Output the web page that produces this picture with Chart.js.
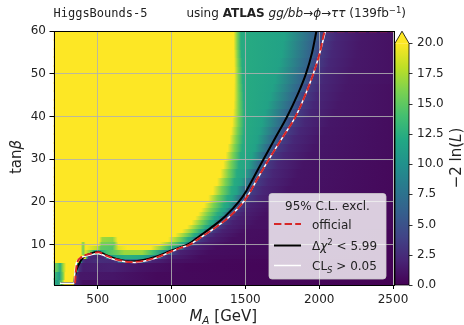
<!DOCTYPE html>
<html>
<head>
<meta charset="utf-8">
<script src="https://cdn.jsdelivr.net/npm/chart.js@4.4.1/dist/chart.umd.min.js"></script>
<style>
  html, body { margin: 0; padding: 0; background: #fff; }
</style>
</head>
<body>
<canvas id="c" width="464" height="325"></canvas>
<script>
// axis ranges and ticks
const xRange = [200, 2500];
const yRange = [0.5, 60];
const xTicks = [500, 1000, 1500, 2000, 2500];
const yTicks = [10, 20, 30, 40, 50, 60];
const cbTicks = [0, 2.5, 5, 7.5, 10, 12.5, 15, 17.5, 20];
const cbTop = 20;   // colour scale saturates here (arrow above)
const cbArrow = 21; // tip of the extension arrow

// tanβ band edges of the likelihood map (bottom to top)
const tanbEdges = [0.5, 2, 4, 6, 7, 8, 9, 10, 11, 12, 13, 14, 15, 16, 17, 18, 19, 20,
  22, 24, 26, 28, 30, 32, 34, 36, 38, 40, 42, 44, 46, 48, 50, 52, 54, 56, 58, 60];

// -2ln(L) read along each band: [M_A, value] knots
const heatRows = [
  [[200,13],[230,11],[255,15],[275,20],[335,20],[340,6],[345,2],[400,0.8],[2500,0.03]],
  [[200,15],[215,13],[240,11],[265,16],[280,20],[340,20],[345,10],[348,6],[352,3],[380,1.3],[600,1.2],[900,0.5],[2500,0.05]],
  [[200,16],[225,15],[245,12.5],[265,17],[285,20],[355,20],[362,12],[367,6],[372,3],[400,1.6],[600,1.8],[800,1],[1100,0.4],[2500,0.05]],
  [[200,20],[375,20],[388,12],[393,6],[398,3],[420,2],[500,2.6],[600,2.4],[640,3.5],[640,6],[680,7.5],[720,8],[780,7.5],[822,6],[822,3.5],[870,2],[1000,1],[1300,0.4],[2500,0.08]],
  [[200,20],[415,20],[425,12],[431,6],[436,3],[450,2.2],[540,2.2],[557,3.5],[557,6],[575,10],[620,12],[700,12.5],[800,12],[880,9.5],[921,6],[935,3.5],[980,1.8],[1200,0.6],[2500,0.1]],
  [[200,20],[385,20],[400,15.5],[418,19],[450,16],[480,12],[500,10.5],[520,12],[560,14],[630,15.5],[680,17],[800,17],[870,14],[940,10],[993,6],[1011,3.5],[1060,1.8],[1250,0.7],[2500,0.12]],
  [[200,20],[385,20],[400,15.5],[418,20],[500,18],[520,15],[600,14.5],[640,19],[700,20],[860,20],[940,16],[1000,12.3],[1025,11.5],[1072,6],[1085,3.2],[1145,1.8],[1305,0.7],[2500,0.15]],
  [[200,20],[385,20],[400,16],[418,20],[505,20],[525,16],[610,15.5],[640,20],[920,20],[1000,16],[1065,12.3],[1090,11.5],[1132,6],[1150,3.2],[1210,1.8],[1370,0.8],[2500,0.2]],
  [[200,20],[510,20],[530,17],[600,16.5],[635,20],[975,20],[1055,16],[1112,12.3],[1135,11.5],[1172,6],[1195,3.2],[1255,1.8],[1415,0.8],[2500,0.2]],
  [[200,20],[1025,20],[1100,16],[1155,12.3],[1175,11.5],[1209,6],[1240,3.2],[1300,1.8],[1460,0.8],[2500,0.2]],
  [[200,20],[1070,20],[1140,16],[1196,12.3],[1214,11.5],[1250,6],[1282,3.2],[1342,1.8],[1502,0.8],[2500,0.2]],
  [[200,20],[1105,20],[1172,16],[1232,12.3],[1252,11.5],[1288,6],[1320,3.2],[1380,1.8],[1540,0.9],[2500,0.3]],
  [[200,20],[1135,20],[1200,16],[1262,12.3],[1285,11.5],[1324,6],[1355,3.2],[1415,1.8],[1575,0.9],[2500,0.3]],
  [[200,20],[1160,20],[1225,16],[1290,12.3],[1315,11.5],[1358,6],[1390,3.2],[1450,1.8],[1610,0.9],[2500,0.3]],
  [[200,20],[1180,20],[1245,16],[1312,12.3],[1340,11.5],[1388,6],[1420,3.2],[1480,1.8],[1640,0.9],[2500,0.3]],
  [[200,20],[1200,20],[1265,16],[1335,12.3],[1362,11.5],[1414,6],[1448,3.2],[1508,1.8],[1668,0.9],[2500,0.3]],
  [[200,20],[1220,20],[1285,16],[1355,12.3],[1385,11.5],[1440,6],[1475,3.2],[1535,1.8],[1695,0.9],[2500,0.3]],
  [[200,20],[1248,20],[1310,16],[1378,12.3],[1410,11.5],[1478,6],[1505,3.5],[1585,2.1],[1755,1.1],[2500,0.45]],
  [[200,20],[1280,20],[1340,16],[1405,12.3],[1440,11.5],[1511,6],[1540,3.5],[1620,2.1],[1790,1.1],[2500,0.45]],
  [[200,20],[1308,20],[1365,16],[1425,12.3],[1470,11.5],[1545,6],[1575,3.5],[1655,2.1],[1825,1.1],[2500,0.45]],
  [[200,20],[1330,20],[1385,16],[1442,12.3],[1495,11.5],[1576,6],[1607,3.5],[1687,2.1],[1857,1.1],[2500,0.45]],
  [[200,20],[1350,20],[1402,16],[1456,12.3],[1520,11.5],[1607,6],[1640,3.5],[1720,2.1],[1890,1.1],[2500,0.45]],
  [[200,20],[1366,20],[1416,16],[1468,12.3],[1545,11.5],[1640,6],[1680,3.5],[1760,2.2],[1930,1.2],[2500,0.6]],
  [[200,20],[1380,20],[1428,16],[1478,12.3],[1565,11.5],[1672,6],[1714,3.5],[1794,2.2],[1964,1.2],[2500,0.6]],
  [[200,20],[1393,20],[1438,16],[1485,12.3],[1580,11.5],[1704,6],[1750,3.5],[1830,2.2],[2000,1.2],[2500,0.6]],
  [[200,20],[1403,20],[1446,16],[1490,12.3],[1595,11.5],[1736,6],[1786,3.5],[1866,2.2],[2036,1.2],[2500,0.6]],
  [[200,20],[1411,20],[1452,16],[1492,12.3],[1612,11.5],[1768,6],[1822,3.5],[1902,2.2],[2072,1.2],[2500,0.6]],
  [[200,20],[1417,20],[1455,16],[1492,12.3],[1632,11.5],[1797,6],[1855,3.5],[1935,2.2],[2105,1.3],[2500,0.8]],
  [[200,20],[1420,20],[1455,16],[1490,12.3],[1650,11.5],[1825,6],[1880,3.5],[1960,2.2],[2130,1.3],[2500,0.8]],
  [[200,20],[1422,20],[1455,16],[1488,12.3],[1668,11.5],[1852,6],[1905,3.5],[1985,2.2],[2155,1.3],[2500,0.8]],
  [[200,20],[1423,20],[1454,16],[1485,12.3],[1685,11.5],[1876,6],[1928,3.5],[2008,2.2],[2178,1.3],[2500,0.8]],
  [[200,20],[1424,20],[1453,16],[1482,12.3],[1700,11.5],[1898,6],[1950,3.5],[2030,2.2],[2200,1.3],[2500,0.9]],
  [[200,20],[1424,20],[1452,16],[1480,12.3],[1715,11.5],[1920,6],[1970,3.5],[2050,2.2],[2220,1.3],[2500,0.9]],
  [[200,20],[1423,20],[1450,16],[1477,12.3],[1730,11.5],[1937,6],[1988,3.5],[2068,2.2],[2238,1.3],[2500,0.9]],
  [[200,20],[1422,20],[1448,16],[1474,12.3],[1745,11.5],[1952,6],[2005,3.5],[2085,2.2],[2255,1.3],[2500,0.9]],
  [[200,20],[1420,20],[1445,16],[1470,12.3],[1755,11.5],[1964,6],[2020,3.5],[2100,2.2],[2270,1.3],[2500,0.9]],
  [[200,20],[1420,20],[1445,16],[1470,12.3],[1765,11.5],[1975,6],[2035,3.5],[2115,2.2],[2285,1.3],[2500,0.9]]
];

// exclusion contours (M_A, tanβ)
const chi2M = [250, 339, 346, 368, 402, 448, 500, 550, 600, 650, 720, 800, 900, 1000, 1110, 1172, 1262, 1360, 1460, 1505, 1545, 1623, 1703, 1783, 1852, 1910, 1952, 1981];
const chi2T = [0.9, 0.9, 2.8, 5.1, 7.0, 7.8, 8.3, 7.6, 6.9, 6.4, 6.0, 6.3, 7.2, 8.6, 10.0, 11.5, 13.8, 16.5, 20.2, 22.5, 25, 30, 35, 40, 45, 50, 55, 60];
const officialM = [346, 350, 358, 385, 448, 504, 550, 600, 650, 720, 800, 900, 1000, 1060, 1120, 1190, 1290, 1392, 1492, 1535, 1575, 1660, 1750, 1840, 1905, 1960, 2005, 2042, 2500];
const officialT = [0.9, 3.0, 5.3, 6.9, 7.8, 8.15, 7.5, 6.8, 6.3, 5.9, 6.1, 7.0, 8.4, 9.2, 9.9, 11.5, 13.8, 16.5, 20.2, 22.5, 25, 30, 35, 40, 45, 50, 55, 60, 60];
const clsM = [244, 340, 344, 352, 378, 448, 500, 550, 600, 680, 750, 800, 900, 1000, 1060, 1120, 1190, 1290, 1392, 1492, 1535, 1575, 1660, 1750, 1840, 1905, 1960, 2005, 2042];
const clsT = [0.9, 0.9, 3.0, 5.3, 6.7, 7.5, 7.9, 7.3, 6.6, 6.0, 5.8, 6.0, 6.9, 8.35, 9.2, 9.9, 11.5, 13.8, 16.5, 20.2, 22.5, 25, 30, 35, 40, 45, 50, 55, 60];

const VIRIDIS = [[68,1,84],[72,36,117],[65,68,135],[53,95,141],[42,120,142],[33,145,140],
  [34,168,132],[68,191,112],[122,209,81],[189,223,38],[253,231,37]];

function viridis(f) {
  f = Math.max(0, Math.min(1, f)) * 10;
  const i = Math.min(9, Math.floor(f)), t = f - i;
  const a = VIRIDIS[i], b = VIRIDIS[i + 1];
  const c = a.map((v, k) => Math.round(v + (b[k] - v) * t));
  return `rgb(${c[0]},${c[1]},${c[2]})`;
}

const pts = (xs, ys) => xs.map((x, i) => ({ x, y: ys[i] }));

// draw a run of text pieces with different fonts: [text, font, dy]
function drawParts(ctx, parts, x, y, align) {
  let w = 0;
  parts.forEach(p => { ctx.font = p[1]; w += ctx.measureText(p[0]).width; });
  let cx = align === 'right' ? x - w : align === 'center' ? x - w / 2 : x;
  parts.forEach(p => {
    ctx.font = p[1];
    ctx.fillText(p[0], cx, y + (p[2] || 0));
    cx += ctx.measureText(p[0]).width;
  });
}

const F = 'DejaVu Sans';
const f12 = `12px "${F}"`, i12 = `italic 12px "${F}"`, b12 = `bold 12px "${F}"`;
const f15 = `15px "${F}"`, i15 = `italic 15px "${F}"`;

const heatmap = {
  id: 'heatmap',
  beforeDraw(chart) {
    const { ctx, chartArea: ca, scales: { x, y } } = chart;
    const x0 = x.getPixelForValue(xRange[0]), x1 = x.getPixelForValue(xRange[1]);
    ctx.save();
    ctx.beginPath();
    ctx.rect(ca.left, ca.top, ca.right - ca.left, ca.bottom - ca.top);
    ctx.clip();
    heatRows.forEach((knots, i) => {
      const yt = y.getPixelForValue(tanbEdges[i + 1]);
      const yb = y.getPixelForValue(tanbEdges[i]);
      const g = ctx.createLinearGradient(x0, 0, x1, 0);
      knots.forEach(([m, v]) => {
        g.addColorStop((x.getPixelForValue(m) - x0) / (x1 - x0), viridis(v / cbTop));
      });
      ctx.fillStyle = g;
      ctx.fillRect(x0, Math.floor(yt), x1 - x0, Math.ceil(yb) - Math.floor(yt) + 1);
    });
    ctx.restore();
  }
};

const decor = {
  id: 'decor',
  afterDraw(chart) {
    const { ctx, chartArea: ca } = chart;
    const cb = chart.scales.yc;
    ctx.save();
    // frame
    ctx.strokeStyle = '#000';
    ctx.lineWidth = 1;
    ctx.strokeRect(Math.round(ca.left) + 0.5, Math.round(ca.top) + 0.5,
      Math.round(ca.right - ca.left), Math.round(ca.bottom - ca.top));

    // colour bar
    const bx0 = ca.right + 2, bx1 = ca.right + 16;
    const byTop = cb.getPixelForValue(cbTop), byBot = cb.getPixelForValue(0), byTip = cb.getPixelForValue(cbArrow);
    const g = ctx.createLinearGradient(0, byBot, 0, byTop);
    for (let k = 0; k <= 10; k++) g.addColorStop(k / 10, viridis(k / 10));
    ctx.fillStyle = g;
    ctx.fillRect(bx0, byTop, bx1 - bx0, byBot - byTop);
    ctx.fillStyle = viridis(1);
    ctx.beginPath();
    ctx.moveTo(bx0, byTop); ctx.lineTo((bx0 + bx1) / 2, byTip); ctx.lineTo(bx1, byTop);
    ctx.closePath(); ctx.fill();
    ctx.beginPath();
    ctx.moveTo(bx0, byBot); ctx.lineTo(bx0, byTop); ctx.lineTo((bx0 + bx1) / 2, byTip);
    ctx.lineTo(bx1, byTop); ctx.lineTo(bx1, byBot); ctx.closePath();
    ctx.strokeStyle = '#000'; ctx.lineWidth = 0.8; ctx.stroke();
    cb.ticks.forEach(t => {
      const py = Math.round(cb.getPixelForValue(t.value)) + 0.5;
      ctx.beginPath(); ctx.moveTo(bx1, py); ctx.lineTo(bx1 + 3.5, py); ctx.stroke();
    });

    ctx.fillStyle = '#222';
    ctx.textBaseline = 'alphabetic';
    ctx.textAlign = 'left';
    // colour bar label
    ctx.save();
    ctx.translate(461, 158);
    ctx.rotate(-Math.PI / 2);
    drawParts(ctx, [['\u22122 ln(', f15], ['L', i15], [')', f15]], 0, 0, 'center');
    ctx.restore();

    // y label
    ctx.save();
    ctx.translate(20.5, 157);
    ctx.rotate(-Math.PI / 2);
    drawParts(ctx, [['tan', f15], ['\u03b2', i15]], 0, 0, 'center');
    ctx.restore();

    // x label
    drawParts(ctx, [['M', i15], ['A', `italic 10.5px "${F}"`, 3], [' [GeV]', f15]],
      (ca.left + ca.right) / 2, 321, 'center');

    // titles
    drawParts(ctx, [['HiggsBounds-5', `12px "DejaVu Sans Mono"`]], ca.left, 17, 'left');
    drawParts(ctx, [['using ', f12], ['ATLAS', b12], [' ', f12], ['gg/bb', i12], ['\u2192', f12],
      ['\u03d5', i12], ['\u2192', f12], ['\u03c4\u03c4', i12], [' (139fb', f12],
      ['\u22121', `8.5px "${F}"`, -4.5], [')', f12]], 406, 17, 'right');

    // legend
    const lx = 269, ly = 193.5, lw = 117, lh = 85.5;
    ctx.beginPath();
    ctx.roundRect(lx, ly, lw, lh, 3);
    ctx.fillStyle = 'rgba(255,255,255,0.8)';
    ctx.fill();
    ctx.strokeStyle = 'rgba(204,204,204,0.8)';
    ctx.lineWidth = 1;
    ctx.stroke();
    ctx.fillStyle = '#222';
    drawParts(ctx, [['95% C.L. excl.', f12]], lx + lw / 2, 209.5, 'center');
    const rows = [
      { y: 224, color: '#d62728', w: 2, dash: [7.4, 3.2],
        label: [['official', f12]] },
      { y: 245.5, color: '#000', w: 2, dash: [],
        label: [['\u0394', f12], ['\u03c7', i12], ['2', `8.5px "${F}"`, -5], [' < 5.99', f12]] },
      { y: 265.5, color: '#fff', w: 1.5, dash: [],
        label: [['CL', f12], ['S', `italic 8.5px "${F}"`, 2.5], [' > 0.05', f12]] }
    ];
    rows.forEach(r => {
      ctx.beginPath();
      ctx.setLineDash(r.dash);
      ctx.strokeStyle = r.color;
      ctx.lineWidth = r.w;
      ctx.moveTo(274, r.y); ctx.lineTo(301, r.y);
      ctx.stroke();
      ctx.setLineDash([]);
      ctx.fillStyle = '#222';
      drawParts(ctx, r.label, 312, r.y + 4.5, 'left');
    });
    ctx.restore();
  }
};

const tickSetter = arr => scale => { scale.ticks = arr.map(v => ({ value: v })); };

new Chart(document.getElementById('c'), {
  type: 'scatter',
  data: {
    datasets: [
      { label: 'official', data: pts(officialM, officialT), showLine: true, order: 0,
        borderColor: '#d62728', borderWidth: 2, borderDash: [7.4, 3.2], pointRadius: 0,
        cubicInterpolationMode: 'monotone' },
      { label: 'CLs', data: pts(clsM, clsT), showLine: true, order: 1,
        borderColor: '#ffffff', borderWidth: 1.5, pointRadius: 0,
        cubicInterpolationMode: 'monotone' },
      { label: 'chi2', data: pts(chi2M, chi2T), showLine: true, order: 2,
        borderColor: '#000000', borderWidth: 2, pointRadius: 0,
        cubicInterpolationMode: 'monotone' }
    ]
  },
  options: {
    responsive: false,
    animation: false,
    devicePixelRatio: 1,
    layout: { padding: { top: 24.5, left: 0, right: 0, bottom: 0 } },
    plugins: { legend: { display: false }, tooltip: { enabled: false } },
    scales: {
      x: {
        type: 'linear', min: xRange[0], max: xRange[1],
        afterBuildTicks: tickSetter(xTicks),
        afterFit: s => { s.height = 40; },
        grid: { color: 'rgba(176,176,176,0.85)', tickColor: '#000', tickLength: 4 },
        border: { display: false },
        ticks: { color: '#222', font: { family: F, size: 12 }, padding: 4, maxRotation: 0,
          callback: v => String(v) }
      },
      y: {
        type: 'linear', min: yRange[0], max: yRange[1],
        afterBuildTicks: tickSetter(yTicks),
        afterFit: s => { s.width = 53.5; },
        grid: { color: 'rgba(176,176,176,0.85)', tickColor: '#000', tickLength: 4 },
        border: { display: false },
        ticks: { color: '#222', font: { family: F, size: 12 }, padding: 3.5,
          callback: v => String(v) }
      },
      yc: {
        type: 'linear', position: 'right', min: 0, max: cbArrow,
        afterBuildTicks: tickSetter(cbTicks),
        afterFit: s => { s.width = 71; },
        grid: { display: false, drawTicks: false },
        border: { display: false },
        ticks: { color: '#222', font: { family: F, size: 12 }, padding: 24,
          callback: v => v.toFixed(1) }
      }
    }
  },
  plugins: [heatmap, decor]
});
</script>
</body>
</html>
